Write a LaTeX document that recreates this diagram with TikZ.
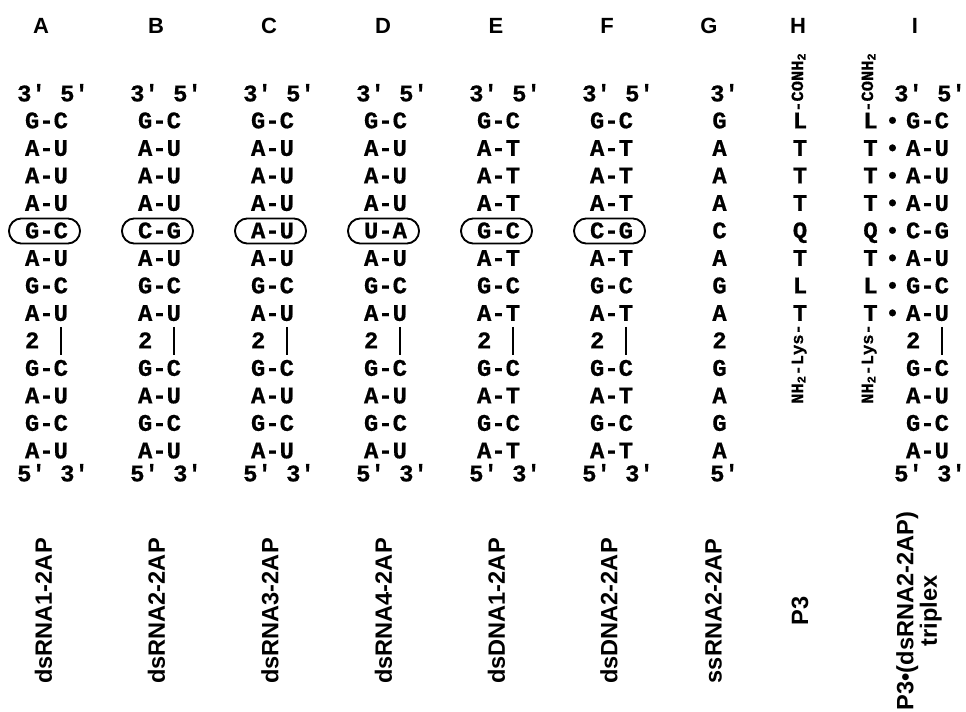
\documentclass[tikz,border=0pt]{standalone}
\usepackage{fontspec}
\setmainfont{Liberation Sans}
\newfontfamily\seqfont{Liberation Mono}[Ligatures=TeXOff,BoldFeatures={FakeBold=0.6}]
\newcommand\dscol[5]{% #1 name, #2 pair centre x, #3 U or T, #4/#5 boxed pair
  \node[seq] (#1top) at ({#2+6.5},94) {3' 5'};
  \foreach \i/\pb in {0/G-C,1/A-#3,2/A-#3,3/A-#3,5/A-#3,6/G-C,7/A-#3,9/G-C,10/A-#3,11/G-C,12/A-#3}
    \node[seq] (#1\i) at (#2,{121+27.5*\i}) {\pb};
  \node[pairbox] (#1box) at ({#2-2},{121+27.5*4}) {};
  \node[seq] (#1r4) at (#2,{121+27.5*4}) {#4-#5};
  \node[seq] (#1r8) at ({#2-14.3},{121+27.5*8}) {2};
  \coordinate (#1bt) at ({#2+14.3},{121+27.5*8-14});
  \coordinate (#1bb) at ({#2+14.3},{121+27.5*8+14});
  \draw[bar] (#1bt) -- (#1bb);
  \node[seq] (#1bot) at ({#2+6.5},474) {5' 3'};
}
\begin{document}
\begin{tikzpicture}[x=0.75pt,y=-0.75pt,
  seq/.style={font=\seqfont\bfseries\fontsize{17.9}{20}\selectfont,inner sep=0pt,text height=11pt,text depth=0pt},
  small/.style={font=\seqfont\bfseries\fontsize{12.8}{14}\selectfont,inner sep=0pt,rotate=90,anchor=base west},
  hdr/.style={font=\bfseries\fontsize{16.5}{18}\selectfont,inner sep=0pt,text height=11.8pt,text depth=0pt},
  lbl/.style={font=\bfseries\fontsize{17.7}{15.5}\selectfont,inner sep=0pt,rotate=90,align=center},
  pairbox/.style={draw,line width=1.4pt,rounded corners=9.3pt,minimum width=53.3pt,minimum height=18.8pt,inner sep=0pt},
  bar/.style={line width=1.4pt}]
\fill[white] (0,0) rectangle (966,712);
\useasboundingbox (0,0) rectangle (966,712);
% headers
\foreach \n/\x in {A/41,B/156,C/269,D/383,E/496,F/607,G/709,H/798,I/915}
  \node[hdr] (h\n) at (\x,26) {\n};
% duplex columns
\dscol{A}{46.5}{U}{G}{C}
\dscol{B}{159.5}{U}{C}{G}
\dscol{C}{272.5}{U}{A}{U}
\dscol{D}{385.5}{U}{U}{A}
\dscol{E}{498.5}{T}{G}{C}
\dscol{F}{611.5}{T}{C}{G}
% single strand G
\node[seq] (Gtop) at (724.5,94) {3'};
\foreach \i/\c in {0/G,1/A,2/A,3/A,4/C,5/A,6/G,7/A,8/2,9/G,10/A,11/G,12/A}
  \node[seq] (G\i) at (719.5,{121+27.5*\i}) {\c};
\node[seq] (Gbot) at (724.5,474) {5'};
% peptide H
\node[small] (Hc) at (803,112) {-CONH\textsubscript{2}};
\foreach \i/\c in {0/L,1/T,2/T,3/T,4/Q,5/T,6/L,7/T}
  \node[seq] (H\i) at (800,{121+27.5*\i}) {\c};
\node[small] (Hn) at (803,404) {NH\textsubscript{2}-Lys-};
% triplex I
\node[small] (Ic) at (873,112) {-CONH\textsubscript{2}};
\node[seq] (Itop) at (930,94) {3' 5'};
\foreach \i/\c/\pb in {0/L/G-C,1/T/A-U,2/T/A-U,3/T/A-U,4/Q/C-G,5/T/A-U,6/L/G-C,7/T/A-U}{
  \node[seq] (Ip\i) at (870.5,{121+27.5*\i}) {\c};
  \node[seq] (Id\i) at (892.5,{121+27.5*\i}) {•};
  \node[seq] (I\i) at (927.5,{121+27.5*\i}) {\pb};
}
\node[seq] (I8) at ({927.5-14.3},{121+27.5*8}) {2};
\coordinate (Ibt) at ({927.5+14.3},{121+27.5*8-14});
\coordinate (Ibb) at ({927.5+14.3},{121+27.5*8+14});
\draw[bar] (Ibt) -- (Ibb);
\foreach \i/\pb in {9/G-C,10/A-U,11/G-C,12/A-U}
  \node[seq] (I\i) at (927.5,{121+27.5*\i}) {\pb};
\node[small] (In) at (873,404) {NH\textsubscript{2}-Lys-};
\node[seq] (Ibot) at (930,474) {5' 3'};
% bottom labels
\node[lbl] (lA) at (43.5,611) {dsRNA1-2AP};
\node[lbl] (lB) at (156.5,611) {dsRNA2-2AP};
\node[lbl] (lC) at (270,611) {dsRNA3-2AP};
\node[lbl] (lD) at (383.5,611) {dsRNA4-2AP};
\node[lbl] (lE) at (496.5,611) {dsDNA1-2AP};
\node[lbl] (lF) at (609,611) {dsDNA2-2AP};
\node[lbl] (lG) at (713.5,611) {ssRNA2-2AP};
\node[lbl] (lH) at (800,611) {P3};
\node[lbl] (lI) at (919,611) {P3•(dsRNA2-2AP)\\triplex};
\end{tikzpicture}
\end{document}
